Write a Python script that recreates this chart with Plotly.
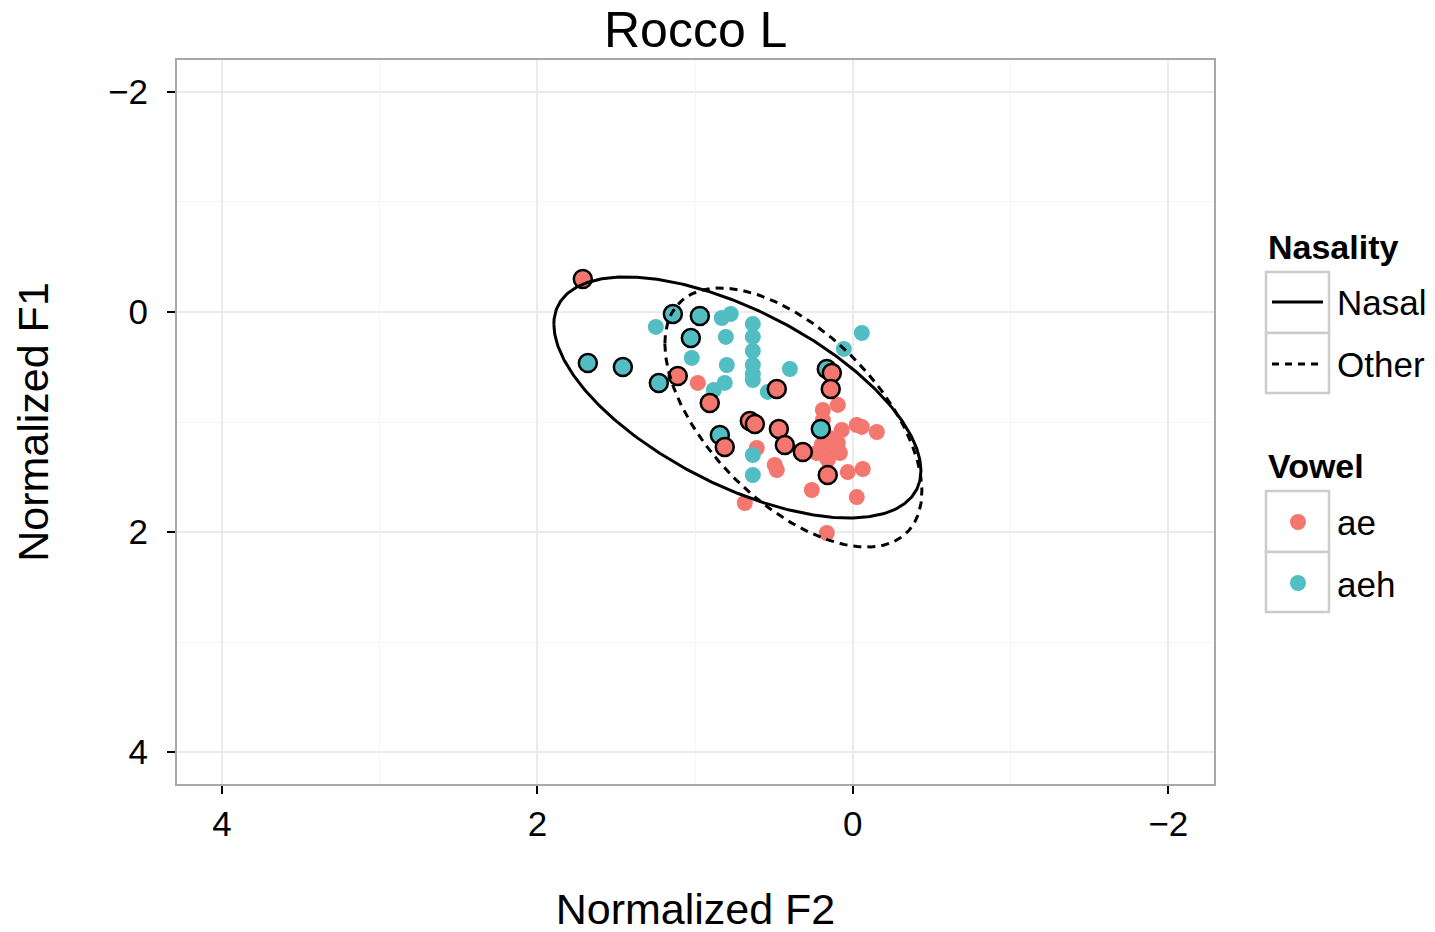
import numpy as np
import plotly.graph_objects as go

# ---------------- data (Normalized F2, Normalized F1) ----------------
ae_nasal_f2 = [1.712, 1.110, 0.907, 0.482, 0.653, 0.621, 0.469, 0.812, 0.431, 0.317, 0.133, 0.140, 0.159]
ae_nasal_f1 = [-0.30, 0.582, 0.827, 0.700, 0.991, 1.018, 1.064, 1.227, 1.209, 1.273, 0.555, 0.700, 1.482]

aeh_nasal_f2 = [1.141, 0.970, 1.027, 1.680, 1.458, 1.230, 0.843, 0.165, 0.203]
aeh_nasal_f1 = [0.018, 0.036, 0.236, 0.464, 0.500, 0.645, 1.118, 0.518, 1.064]

aeh_other_f2 = [1.249, 0.831, 0.774, 0.805, 1.021, 0.799, 0.812, 0.881, 0.634, 0.634,
                0.634, 0.634, 0.634, 0.634, 0.399, 0.539, -0.057, 0.057, 0.634, 0.634]
aeh_other_f1 = [0.136, 0.055, 0.018, 0.227, 0.418, 0.482, 0.645, 0.709, 0.109, 0.227,
                0.355, 0.482, 0.564, 0.618, 0.518, 0.727, 0.191, 0.336, 1.300, 1.482]

ae_other_f2 = [0.983, 0.609, 0.495, 0.482, 0.685, 0.260, 0.190, 0.095, 0.070, -0.025,
               -0.057, -0.152, 0.197, 0.127, 0.082, 0.159, 0.228, 0.095, 0.146, 0.032,
               -0.063, -0.025, 0.165, 0.190]
ae_other_f1 = [0.645, 1.236, 1.391, 1.436, 1.736, 1.618, 0.891, 0.845, 1.073, 1.027,
               1.045, 1.091, 1.209, 1.255, 1.282, 1.345, 1.282, 1.191, 1.145, 1.455,
               1.427, 1.682, 2.009, 0.982]

# ellipse parameters (center and covariance-like shape matrix, data units)
nasal_center = [0.732, 0.777]
nasal_shape = [[1.354, -0.774], [-0.774, 1.200]]
other_center = [0.377, 0.959]
other_shape = [[0.664, -0.5465], [-0.5465, 1.386]]

x_ticks = [4, 2, 0, -2]
y_ticks = [-2, 0, 2, 4]

title_text = "Rocco L"
x_title = "Normalized F2"
y_title = "Normalized F1"
nasality_labels = ["Nasal", "Other"]
vowel_labels = ["ae", "aeh"]

RED = "#F3766F"
TEAL = "#52BEC4"
FONT = "Liberation Sans, Arial, Helvetica, sans-serif"

W, H = 1435, 932
OFF = 8  # default page body margin
SL, ST, SR, SB = 177, 60, 1214, 784  # plot panel edges on screen
L_, T_ = SL - OFF, ST - OFF
R_, B_ = W - (SR - OFF), H - (SB - OFF)


def px(x):
    return (x - SL) / (SR - SL)


def py(y):
    return (SB - y) / (SB - ST)


def ellipse(center, shape, n=400):
    t = np.linspace(0, 2 * np.pi, n)
    Lc = np.linalg.cholesky(np.array(shape))
    pts = Lc @ np.vstack([np.cos(t), np.sin(t)])
    return center[0] + pts[0], center[1] + pts[1]


fig = go.Figure()

# plain points (Other)
fig.add_trace(go.Scatter(x=ae_other_f2, y=ae_other_f1, mode="markers",
                         marker=dict(size=16, color=RED, line=dict(width=0)),
                         showlegend=False, hoverinfo="skip"))
fig.add_trace(go.Scatter(x=aeh_other_f2, y=aeh_other_f1, mode="markers",
                         marker=dict(size=16, color=TEAL, line=dict(width=0)),
                         showlegend=False, hoverinfo="skip"))
# outlined points (Nasal)
fig.add_trace(go.Scatter(x=aeh_nasal_f2, y=aeh_nasal_f1, mode="markers",
                         marker=dict(size=18, color=TEAL, line=dict(width=2.5, color="black")),
                         showlegend=False, hoverinfo="skip"))
fig.add_trace(go.Scatter(x=ae_nasal_f2, y=ae_nasal_f1, mode="markers",
                         marker=dict(size=18, color=RED, line=dict(width=2.5, color="black")),
                         showlegend=False, hoverinfo="skip"))

# ellipses
ex, ey = ellipse(nasal_center, nasal_shape)
fig.add_trace(go.Scatter(x=ex, y=ey, mode="lines", line=dict(color="black", width=3),
                         showlegend=False, hoverinfo="skip"))
ex, ey = ellipse(other_center, other_shape)
fig.add_trace(go.Scatter(x=ex, y=ey, mode="lines",
                         line=dict(color="black", width=3, dash="8px,6px"),
                         showlegend=False, hoverinfo="skip"))

axis_common = dict(
    showline=True, linecolor="#a8a8a8", linewidth=2, mirror=True,
    ticks="outside", ticklen=8, tickwidth=2, tickcolor="black",
    showgrid=True, gridcolor="#ebebeb", gridwidth=1.5,
    zeroline=False,
    tickfont=dict(family=FONT, size=35, color="black"),
    minor=dict(dtick=1, showgrid=True, gridcolor="#f5f5f5", gridwidth=1.2, ticks=""),
)

fig.update_xaxes(range=[4.285, -2.29], tickmode="array", tickvals=x_ticks,
                 title=dict(text=x_title, font=dict(family=FONT, size=43, color="black"), standoff=52),
                 tick0=0, **axis_common)
fig.update_yaxes(range=[4.29, -2.29], tickmode="array", tickvals=y_ticks,
                 ticklabelstandoff=12,
                 title=dict(text=y_title, font=dict(family=FONT, size=43, color="black"), standoff=46),
                 tick0=0, **axis_common)

shapes = []
annotations = []

# title
annotations.append(dict(text=title_text, x=0.5, y=py(30), xref="paper", yref="paper",
                        xanchor="center", yanchor="middle", showarrow=False,
                        font=dict(family=FONT, size=50, color="black")))

# legend: Nasality
annotations.append(dict(text="<b>Nasality</b>", x=px(1266), y=py(247), xref="paper", yref="paper",
                        xanchor="left", yanchor="middle", showarrow=False,
                        font=dict(family=FONT, size=34, color="black")))
box_color = "#cccccc"
for (y0, y1) in [(272, 333), (333, 393), (491, 552), (552, 612)]:
    shapes.append(dict(type="rect", xref="paper", yref="paper",
                       x0=px(1266), x1=px(1329), y0=py(y1), y1=py(y0),
                       line=dict(color=box_color, width=2.5), fillcolor="white", layer="above"))
shapes.append(dict(type="line", xref="paper", yref="paper", x0=px(1272), x1=px(1323),
                   y0=py(302), y1=py(302), line=dict(color="black", width=3), layer="above"))
shapes.append(dict(type="line", xref="paper", yref="paper", x0=px(1272), x1=px(1323),
                   y0=py(364), y1=py(364), line=dict(color="black", width=3, dash="7px,6px"),
                   layer="above"))
for lab, yy in zip(nasality_labels, [302, 364]):
    annotations.append(dict(text=lab, x=px(1335), y=py(yy), xref="paper", yref="paper",
                            xanchor="left", yanchor="middle", showarrow=False,
                            font=dict(family=FONT, size=35, color="black")))

# legend: Vowel
annotations.append(dict(text="<b>Vowel</b>", x=px(1266), y=py(466), xref="paper", yref="paper",
                        xanchor="left", yanchor="middle", showarrow=False,
                        font=dict(family=FONT, size=34, color="black")))
for col, yy in zip([RED, TEAL], [522, 583]):
    shapes.append(dict(type="circle", xref="paper", yref="paper",
                       x0=px(1290), x1=px(1306), y0=py(yy + 8), y1=py(yy - 8),
                       line=dict(width=0), fillcolor=col, layer="above"))
for lab, yy in zip(vowel_labels, [522, 584]):
    annotations.append(dict(text=lab, x=px(1335), y=py(yy), xref="paper", yref="paper",
                            xanchor="left", yanchor="middle", showarrow=False,
                            font=dict(family=FONT, size=35, color="black")))

fig.update_layout(
    width=W, height=H, autosize=False,
    margin=dict(l=L_, r=R_, t=T_, b=B_, pad=0),
    paper_bgcolor="white", plot_bgcolor="white",
    showlegend=False,
    shapes=shapes, annotations=annotations,
    font=dict(family=FONT, color="black"),
)

fig.write_html("out.html", config={"displayModeBar": False})
